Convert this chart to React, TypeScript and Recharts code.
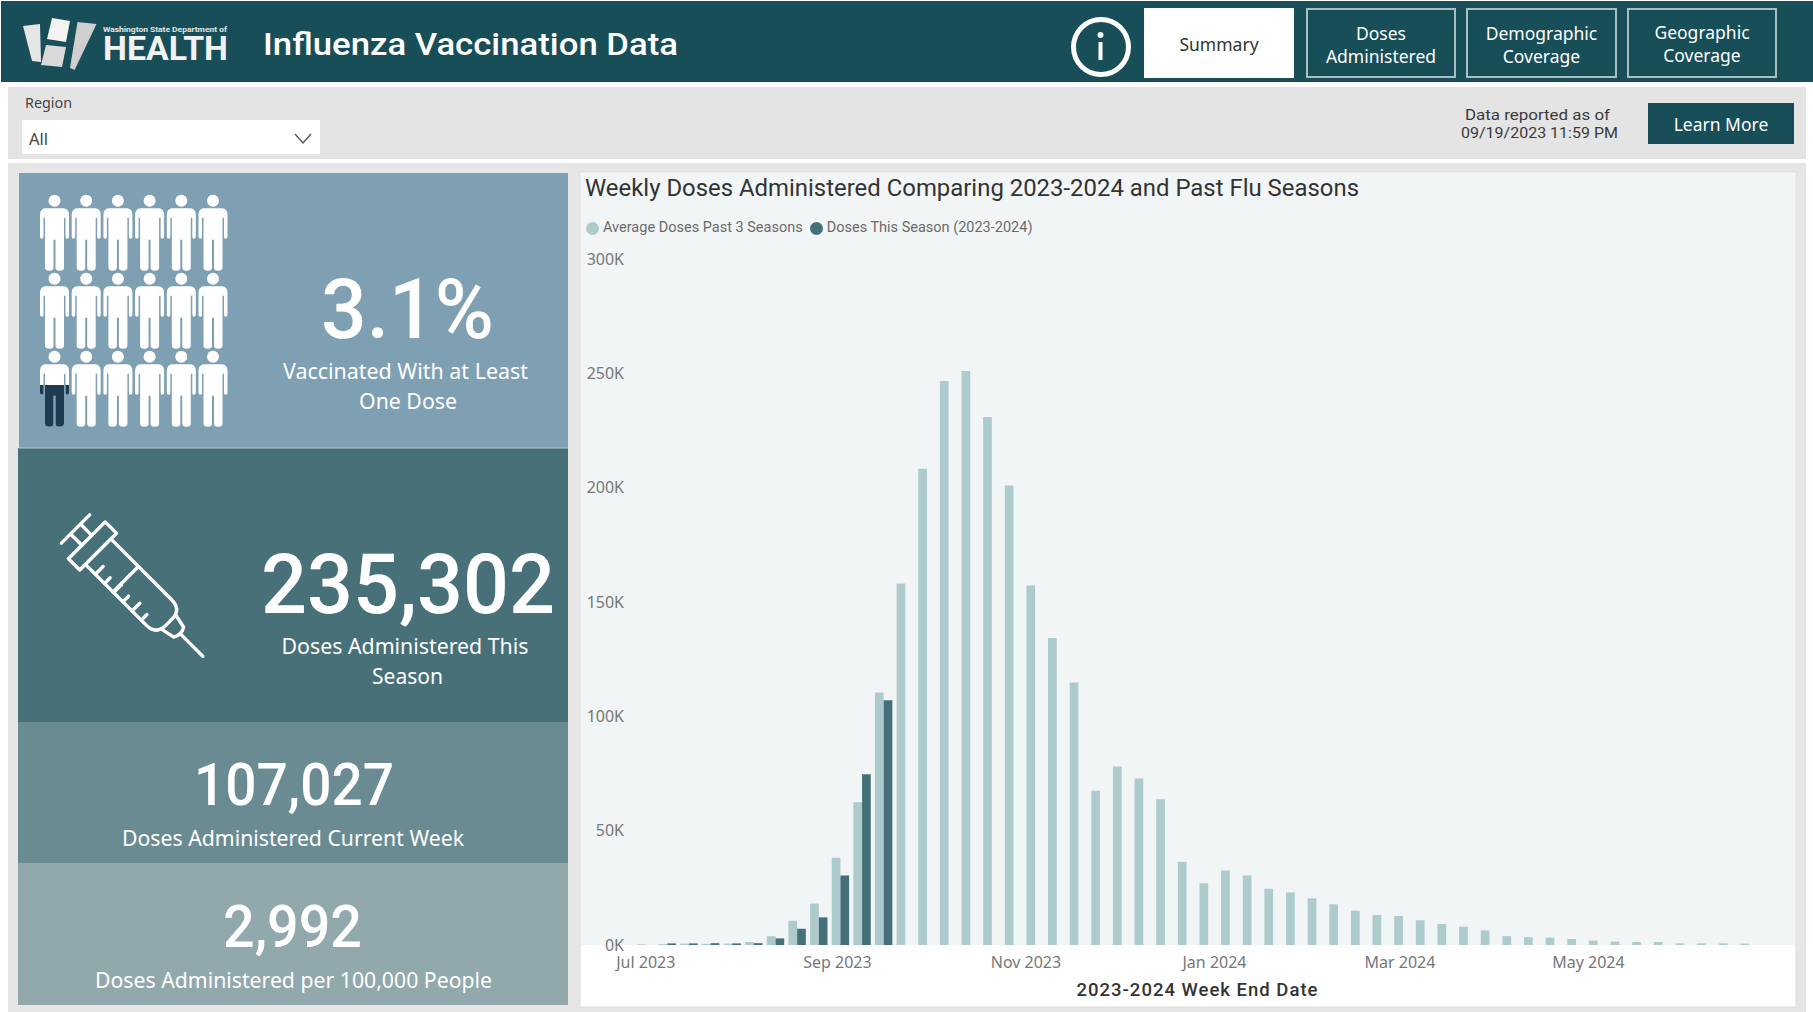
import { Bar, BarChart, Legend, XAxis, YAxis } from "recharts"

const weekEndDates = [
  "2023-07-01", "2023-07-08", "2023-07-15", "2023-07-22", "2023-07-29", "2023-08-05", "2023-08-12", "2023-08-19",
  "2023-08-26", "2023-09-02", "2023-09-09", "2023-09-16", "2023-09-23", "2023-09-30", "2023-10-07", "2023-10-14",
  "2023-10-21", "2023-10-28", "2023-11-04", "2023-11-11", "2023-11-18", "2023-11-25", "2023-12-02", "2023-12-09",
  "2023-12-16", "2023-12-23", "2023-12-30", "2024-01-06", "2024-01-13", "2024-01-20", "2024-01-27", "2024-02-03",
  "2024-02-10", "2024-02-17", "2024-02-24", "2024-03-02", "2024-03-09", "2024-03-16", "2024-03-23", "2024-03-30",
  "2024-04-06", "2024-04-13", "2024-04-20", "2024-04-27", "2024-05-04", "2024-05-11", "2024-05-18", "2024-05-25",
  "2024-06-01", "2024-06-08", "2024-06-15", "2024-06-22",
]

const averagePastSeasons = [
  300, 400, 600, 500, 600, 1300, 3800, 10600, 18100, 38200, 62400, 110400, 158100, 208300, 246600, 251000, 230900,
  201000, 157200, 134300, 114800, 67500, 78100, 72800, 63700, 36400, 27000, 32600, 30400, 24600, 23000, 20400, 17800,
  15000, 13100, 12700, 10800, 9200, 8000, 6400, 3900, 3400, 3200, 2600, 1900, 1500, 1300, 1300, 700, 700, 700, 600,
]

const dosesThisSeason = [null, 700, 700, 800, 700, 800, 2900, 7100, 12100, 30400, 74700, 107027]

const monthTicks = ["2023-07-01", "2023-09-01", "2023-11-01", "2024-01-01", "2024-03-01", "2024-05-01"]
const monthLabels = ["Jul 2023", "Sep 2023", "Nov 2023", "Jan 2024", "Mar 2024", "May 2024"]
const yTicks = [0, 50000, 100000, 150000, 200000, 250000, 300000]

const toMs = (d: string) => new Date(d + "T00:00:00Z").getTime()
const HALF_WEEK = 3.5 * 24 * 3600 * 1000

const chartData = weekEndDates.map((d, i) => ({
  date: toMs(d),
  average: averagePastSeasons[i],
  current: dosesThisSeason[i] ?? null,
}))

const SANS = "'Noto Sans', sans-serif"
const DIN = "Roboto, sans-serif"

// svg text squeezed to the measured width, the report fonts are not installed
function T({ x, y, w, size, children, fill = "#fff", font = SANS, weight = 400 }: any) {
  return (
    <text x={x} y={y} textLength={w} lengthAdjust="spacingAndGlyphs" fontSize={size} fill={fill} fontFamily={font} fontWeight={weight}>
      {children}
    </text>
  )
}

function Person({ x, y }: { x: number; y: number }) {
  return (
    <g transform={`translate(${x} ${y})`}>
      <circle cx={0} cy={0} r={6} />
      <path d="M-9 7.5 H9 Q14.5 8 14.5 14 V36 Q14.5 38 12.5 38 Q11 38 11 36 V17 H9.5 V67 Q9.5 70 5 70 Q1 70 1 67 V39 H-1 V67 Q-1 70 -5 70 Q-9.5 70 -9.5 67 V17 H-11 V36 Q-11 38 -12.5 38 Q-14.5 38 -14.5 36 V14 Q-14.5 8 -9 7.5 Z" />
    </g>
  )
}

function People() {
  const cols = [54.5, 86.2, 117.9, 149.6, 181.3, 213]
  const rows = [200.7, 278.7, 356.7]
  return (
    <g fill="#fff">
      {rows.map((ry) => cols.map((cx) => <Person key={`${cx}-${ry}`} x={cx} y={ry} />))}
      <g fill="#1f3b52" clipPath="url(#lowerHalf)">
        <Person x={54.5} y={356.7} />
      </g>
    </g>
  )
}

function Syringe() {
  const ticks = [46, 59, 72, 85, 98, 111]
  return (
    <g transform="translate(75.5 529) rotate(45)" stroke="#fff" strokeWidth={3.4} fill="none" strokeLinecap="round" strokeLinejoin="round">
      <path d="M0 -20 V20 M0 -7 H16 M0 7 H16" />
      <rect x={16} y={-26} width={16} height={52} />
      <path d="M32 -18 H118 Q132 -18 132 -4 V4 Q132 18 118 18 H32" />
      <path d="M71 -18 V18" />
      {ticks.map((u, i) => (
        <path key={u} d={`M${u} 18 V${i % 2 ? 10 : 7}`} />
      ))}
      <path d="M132 -10 L146 -7 Q150 0 146 7 L132 10" />
      <path d="M148 0 H180" />
    </g>
  )
}

function Tab({ x, w, lines, active, top = 39 }: { x: number; w: number; lines: string[]; active?: boolean; top?: number }) {
  return (
    <g>
      <rect x={x + 1} y={9} width={w - 2} height={68} fill={active ? "#fff" : "none"} stroke={active ? "#fff" : "#a9bfc2"} strokeWidth={2} />
      {lines.map((l, i) => (
        <text
          key={l}
          x={x + w / 2}
          y={lines.length === 1 ? 51 : top + i * 23}
          textAnchor="middle"
          fontSize={17.5}
          fontFamily={SANS}
          fill={active ? "#333" : "#fff"}
        >
          {l}
        </text>
      ))}
    </g>
  )
}

function Backdrop() {
  return (
    <svg width={1813} height={1012} style={{ position: "absolute", left: 0, top: 0 }}>
      <defs>
        <clipPath id="lowerHalf">
          <rect x={30} y={385} width={50} height={50} />
        </clipPath>
      </defs>
      <rect width={1813} height={1012} fill="#fff" />
      <rect x={1} y={1} width={1812} height={81} fill="#174e58" />
      <rect x={8} y={87} width={1798} height={72} fill="#e4e4e4" />
      <rect x={8} y={163} width={1798} height={849} fill="#e6e6e6" />

      <polygon points="23,26 40,24 41,62 32,61" fill="#e6e6e6" />
      <polygon points="52,18 70,21 66,42 47,39" fill="#f4f4f4" />
      <polygon points="46,45 66,47 62,67 41,65" fill="#d9d9d9" />
      <polygon points="77.5,22 96.5,24 74.6,70 70,68" fill="#cfcfcf" />
      <T x={103} y={32} w={124} size={7} weight={700} font={DIN} fill="#e6e6e6">Washington State Department of</T>
      <T x={103} y={59.5} w={125} size={33} weight={700} font={DIN} fill="#f2f2f2">HEALTH</T>
      <T x={263} y={55} w={415} size={32} weight={500} font={DIN}>Influenza Vaccination Data</T>

      <circle cx={1101} cy={47} r={27.5} fill="none" stroke="#fff" strokeWidth={5} />
      <circle cx={1100.5} cy={35} r={3} fill="#fff" />
      <rect x={1098.5} y={42} width={4} height={18} fill="#fff" />
      <Tab x={1144} w={150} lines={["Summary"]} active />
      <Tab x={1306} w={150} lines={["Doses", "Administered"]} top={40} />
      <Tab x={1466} w={151} lines={["Demographic", "Coverage"]} top={40} />
      <Tab x={1627} w={150} lines={["Geographic", "Coverage"]} />

      <T x={25} y={108} w={47} size={15} fill="#444">Region</T>
      <rect x={22} y={120} width={298} height={34} fill="#fff" />
      <T x={29} y={145} w={19} size={16} fill="#444">All</T>
      <path d="M295 134 L303 143 L311 134" fill="none" stroke="#555" strokeWidth={1.4} />
      <T x={1465} y={120} w={145} size={15} font={DIN} fill="#3a3a3a">Data reported as of</T>
      <T x={1461} y={138} w={157} size={15} font={DIN} fill="#3a3a3a">09/19/2023 11:59 PM</T>
      <rect x={1648} y={103} width={146} height={41} fill="#174e58" />
      <text x={1721} y={131} textAnchor="middle" fontSize={17.5} fontFamily={SANS} fill="#fff">Learn More</text>

      <rect x={19} y={173} width={549} height={275} fill="#7f9fb3" />
      <rect x={18} y={448} width={550} height={274} fill="#477079" />
      <rect x={18} y={722} width={550} height={141} fill="#6a8b92" />
      <rect x={18} y={863} width={550} height={142} fill="#91a9ad" />
      <rect x={19} y={447.5} width={549} height={1} fill="#b9c6cd" />

      <People />
      <T x={321} y={338} w={173} size={84} font={DIN} weight={500}>3.1%</T>
      <T x={283} y={379} w={245} size={22}>Vaccinated With at Least</T>
      <T x={359} y={409} w={98} size={22}>One Dose</T>

      <Syringe />
      <T x={261} y={613} w={294} size={84} font={DIN} weight={500}>235,302</T>
      <T x={281.5} y={654} w={247} size={22}>Doses Administered This</T>
      <T x={372} y={684} w={71} size={22}>Season</T>

      <T x={194} y={805} w={200} size={60} font={DIN} weight={500}>107,027</T>
      <T x={122} y={846} w={342} size={22}>Doses Administered Current Week</T>

      <T x={223} y={947} w={139} size={60} font={DIN} weight={500}>2,992</T>
      <T x={95} y={988} w={397} size={22}>Doses Administered per 100,000 People</T>

      <rect x={580} y={172} width={1216} height={835} fill="#fff" stroke="#dcdcdc" />
      <rect x={581} y={173} width={1214} height={772} fill="#f1f5f6" />
      <T x={585} y={196} w={774} size={23} font={DIN} fill="#333">
        Weekly Doses Administered Comparing 2023-2024 and Past Flu Seasons
      </T>
    </svg>
  )
}

export default function App() {
  return (
    <div style={{ position: "absolute", left: 0, top: 0, width: 1813, height: 1012, overflow: "hidden" }}>
      <Backdrop />
      <div style={{ position: "absolute", left: 580, top: 172 }}>
        <BarChart
          width={1220}
          height={835}
          data={chartData}
          barSize={8.7}
          barGap={0}
          margin={{ top: 63, right: 40, left: 0, bottom: 0 }}
        >
          <Legend
            verticalAlign="top"
            align="left"
            iconType="circle"
            iconSize={13}
            height={24}
            width={600}
            wrapperStyle={{ left: 6, top: 46, whiteSpace: "nowrap" }}
            formatter={(value) => (
              <span style={{ color: "#6b6b6b", fontSize: 14.5, fontFamily: DIN, marginRight: -3, whiteSpace: "nowrap" }}>
                {value}
              </span>
            )}
          />
          <XAxis
            dataKey="date"
            type="number"
            scale="time"
            domain={[toMs(weekEndDates[0]) - HALF_WEEK, toMs(weekEndDates[51]) + HALF_WEEK]}
            ticks={monthTicks.map(toMs)}
            tickFormatter={(v) => monthLabels[monthTicks.map(toMs).indexOf(v)]}
            interval={0}
            height={62}
            axisLine={false}
            tickLine={false}
            tickSize={0}
            tickMargin={12}
            tick={{ fill: "#777", fontSize: 16, fontFamily: SANS }}
            label={{
              value: "2023-2024 Week End Date",
              position: "insideBottom",
              offset: 11,
              fill: "#333",
              fontSize: 18.5,
              fontFamily: DIN,
              fontWeight: 500,
              letterSpacing: 1,
            }}
          />
          <YAxis
            width={55}
            domain={[0, 300000]}
            ticks={yTicks}
            tickFormatter={(v) => `${v / 1000}K`}
            axisLine={false}
            tickLine={false}
            tickSize={0}
            tickMargin={11}
            tick={{ fill: "#777", fontSize: 16, fontFamily: SANS }}
          />
          <Bar dataKey="average" name="Average Doses Past 3 Seasons" fill="#adcacd" isAnimationActive={false} />
          <Bar dataKey="current" name="Doses This Season (2023-2024)" fill="#467079" isAnimationActive={false} />
        </BarChart>
      </div>
    </div>
  )
}
